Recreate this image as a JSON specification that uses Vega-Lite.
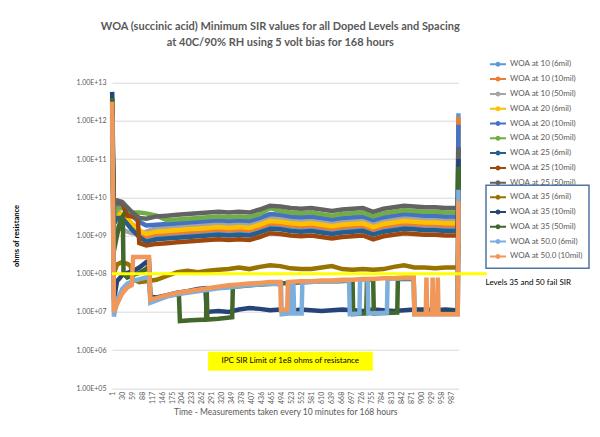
{
"$schema": "https://vega.github.io/schema/vega-lite/v6.json",
"width": 346.6, "height": 305.6, "autosize": "none",
"padding": {"left": 112, "top": 82.7, "right": 141.4, "bottom": 48.7},
"background": "white",
"title": {"text": ["WOA (succinic acid) Minimum SIR values  for all Doped Levels and Spacing", "at 40C/90% RH using 5 volt bias for 168 hours"], "font": "Lato", "fontSize": 11, "fontWeight": "bold", "color": "#595959", "anchor": "middle", "offset": 10, "lineHeight": 16, "dx": -5},
"config": {"view": {"stroke": null}, "font": "Lato",
  "axisX": {"labelOverlap": false, "labelAngle": -90, "labelFontSize": 7, "labelColor": "#595959", "labelFont": "Lato", "ticks": false, "grid": false, "domain": false, "labelPadding": 3, "labelFlush": false, "labelBound": false, "labelSeparation": 0, "titleFont": "Lato", "titleFontSize": 8.5, "titleFontWeight": "normal", "titleColor": "#595959", "titlePadding": 4},
  "axisY": {"labelOverlap": false, "labelFontSize": 7, "labelColor": "#595959", "labelFont": "Lato", "labelPadding": 6, "ticks": false, "domain": false, "grid": true, "gridColor": "#D9D9D9", "titleFont": "Lato", "titleFontSize": 7.5, "titleFontWeight": "bold", "titleColor": "#000000", "titlePadding": 55},
  "legend": {"labelFont": "Lato", "labelFontSize": 8, "labelColor": "#595959", "symbolType": "M-1.6,0H1.6M-0.3,0A0.3,0.3,0,1,0,0.3,0A0.3,0.3,0,1,0,-0.3,0", "symbolSize": 100, "symbolStrokeWidth": 2, "rowPadding": 2.8, "labelOffset": 6, "strokeWidth": 1.5}},
"datasets": {
"upper": [
{"s":"WOA at 10 (6mil)","t":1,"v":2.51e12},{"s":"WOA at 10 (6mil)","t":3,"v":1.00e11},{"s":"WOA at 10 (6mil)","t":6,"v":2.00e9},{"s":"WOA at 10 (6mil)","t":15,"v":3.16e9},{"s":"WOA at 10 (6mil)","t":30,"v":3.16e9},{"s":"WOA at 10 (6mil)","t":45,"v":2.29e9},{"s":"WOA at 10 (6mil)","t":60,"v":1.58e9},{"s":"WOA at 10 (6mil)","t":80,"v":1.00e9},{"s":"WOA at 10 (6mil)","t":100,"v":7.94e8},{"s":"WOA at 10 (6mil)","t":130,"v":9.12e8},{"s":"WOA at 10 (6mil)","t":160,"v":9.55e8},{"s":"WOA at 10 (6mil)","t":190,"v":1.00e9},{"s":"WOA at 10 (6mil)","t":220,"v":1.05e9},{"s":"WOA at 10 (6mil)","t":250,"v":1.10e9},{"s":"WOA at 10 (6mil)","t":280,"v":1.15e9},{"s":"WOA at 10 (6mil)","t":310,"v":1.20e9},{"s":"WOA at 10 (6mil)","t":340,"v":1.15e9},{"s":"WOA at 10 (6mil)","t":370,"v":1.20e9},{"s":"WOA at 10 (6mil)","t":400,"v":1.15e9},{"s":"WOA at 10 (6mil)","t":430,"v":1.38e9},{"s":"WOA at 10 (6mil)","t":460,"v":1.74e9},{"s":"WOA at 10 (6mil)","t":490,"v":1.66e9},{"s":"WOA at 10 (6mil)","t":520,"v":1.51e9},{"s":"WOA at 10 (6mil)","t":550,"v":1.45e9},{"s":"WOA at 10 (6mil)","t":580,"v":1.51e9},{"s":"WOA at 10 (6mil)","t":610,"v":1.38e9},{"s":"WOA at 10 (6mil)","t":640,"v":1.26e9},{"s":"WOA at 10 (6mil)","t":670,"v":1.38e9},{"s":"WOA at 10 (6mil)","t":700,"v":1.45e9},{"s":"WOA at 10 (6mil)","t":730,"v":1.51e9},{"s":"WOA at 10 (6mil)","t":760,"v":1.20e9},{"s":"WOA at 10 (6mil)","t":790,"v":1.45e9},{"s":"WOA at 10 (6mil)","t":820,"v":1.58e9},{"s":"WOA at 10 (6mil)","t":850,"v":1.74e9},{"s":"WOA at 10 (6mil)","t":880,"v":1.66e9},{"s":"WOA at 10 (6mil)","t":910,"v":1.58e9},{"s":"WOA at 10 (6mil)","t":940,"v":1.58e9},{"s":"WOA at 10 (6mil)","t":970,"v":1.51e9},{"s":"WOA at 10 (6mil)","t":1000,"v":1.51e9},{"s":"WOA at 10 (6mil)","t":1006,"v":1.51e9},{"s":"WOA at 10 (6mil)","t":1008,"v":1.58e12},
{"s":"WOA at 10 (10mil)","t":1,"v":1.58e12},{"s":"WOA at 10 (10mil)","t":3,"v":6.31e10},{"s":"WOA at 10 (10mil)","t":6,"v":3.16e9},{"s":"WOA at 10 (10mil)","t":15,"v":3.98e9},{"s":"WOA at 10 (10mil)","t":30,"v":3.63e9},{"s":"WOA at 10 (10mil)","t":45,"v":2.63e9},{"s":"WOA at 10 (10mil)","t":60,"v":1.82e9},{"s":"WOA at 10 (10mil)","t":80,"v":1.20e9},{"s":"WOA at 10 (10mil)","t":100,"v":9.55e8},{"s":"WOA at 10 (10mil)","t":130,"v":1.10e9},{"s":"WOA at 10 (10mil)","t":160,"v":1.15e9},{"s":"WOA at 10 (10mil)","t":190,"v":1.20e9},{"s":"WOA at 10 (10mil)","t":220,"v":1.26e9},{"s":"WOA at 10 (10mil)","t":250,"v":1.32e9},{"s":"WOA at 10 (10mil)","t":280,"v":1.38e9},{"s":"WOA at 10 (10mil)","t":310,"v":1.45e9},{"s":"WOA at 10 (10mil)","t":340,"v":1.38e9},{"s":"WOA at 10 (10mil)","t":370,"v":1.45e9},{"s":"WOA at 10 (10mil)","t":400,"v":1.38e9},{"s":"WOA at 10 (10mil)","t":430,"v":1.66e9},{"s":"WOA at 10 (10mil)","t":460,"v":2.09e9},{"s":"WOA at 10 (10mil)","t":490,"v":2.00e9},{"s":"WOA at 10 (10mil)","t":520,"v":1.82e9},{"s":"WOA at 10 (10mil)","t":550,"v":1.74e9},{"s":"WOA at 10 (10mil)","t":580,"v":1.82e9},{"s":"WOA at 10 (10mil)","t":610,"v":1.66e9},{"s":"WOA at 10 (10mil)","t":640,"v":1.51e9},{"s":"WOA at 10 (10mil)","t":670,"v":1.66e9},{"s":"WOA at 10 (10mil)","t":700,"v":1.74e9},{"s":"WOA at 10 (10mil)","t":730,"v":1.82e9},{"s":"WOA at 10 (10mil)","t":760,"v":1.45e9},{"s":"WOA at 10 (10mil)","t":790,"v":1.74e9},{"s":"WOA at 10 (10mil)","t":820,"v":1.91e9},{"s":"WOA at 10 (10mil)","t":850,"v":2.09e9},{"s":"WOA at 10 (10mil)","t":880,"v":2.00e9},{"s":"WOA at 10 (10mil)","t":910,"v":1.91e9},{"s":"WOA at 10 (10mil)","t":940,"v":1.91e9},{"s":"WOA at 10 (10mil)","t":970,"v":1.82e9},{"s":"WOA at 10 (10mil)","t":1000,"v":1.82e9},{"s":"WOA at 10 (10mil)","t":1006,"v":1.82e9},{"s":"WOA at 10 (10mil)","t":1008,"v":1.26e12},
{"s":"WOA at 10  (50mil)","t":1,"v":6.31e11},{"s":"WOA at 10  (50mil)","t":3,"v":2.51e10},{"s":"WOA at 10  (50mil)","t":6,"v":1.26e9},{"s":"WOA at 10  (50mil)","t":15,"v":1.58e9},{"s":"WOA at 10  (50mil)","t":30,"v":1.45e9},{"s":"WOA at 10  (50mil)","t":45,"v":1.26e9},{"s":"WOA at 10  (50mil)","t":60,"v":1.15e9},{"s":"WOA at 10  (50mil)","t":80,"v":1.10e9},{"s":"WOA at 10  (50mil)","t":100,"v":1.26e9},{"s":"WOA at 10  (50mil)","t":130,"v":1.58e9},{"s":"WOA at 10  (50mil)","t":160,"v":1.66e9},{"s":"WOA at 10  (50mil)","t":190,"v":1.74e9},{"s":"WOA at 10  (50mil)","t":220,"v":1.82e9},{"s":"WOA at 10  (50mil)","t":250,"v":1.91e9},{"s":"WOA at 10  (50mil)","t":280,"v":2.00e9},{"s":"WOA at 10  (50mil)","t":310,"v":2.09e9},{"s":"WOA at 10  (50mil)","t":340,"v":2.00e9},{"s":"WOA at 10  (50mil)","t":370,"v":2.09e9},{"s":"WOA at 10  (50mil)","t":400,"v":2.00e9},{"s":"WOA at 10  (50mil)","t":430,"v":2.40e9},{"s":"WOA at 10  (50mil)","t":460,"v":3.02e9},{"s":"WOA at 10  (50mil)","t":490,"v":2.88e9},{"s":"WOA at 10  (50mil)","t":520,"v":2.63e9},{"s":"WOA at 10  (50mil)","t":550,"v":2.51e9},{"s":"WOA at 10  (50mil)","t":580,"v":2.63e9},{"s":"WOA at 10  (50mil)","t":610,"v":2.40e9},{"s":"WOA at 10  (50mil)","t":640,"v":2.19e9},{"s":"WOA at 10  (50mil)","t":670,"v":2.40e9},{"s":"WOA at 10  (50mil)","t":700,"v":2.51e9},{"s":"WOA at 10  (50mil)","t":730,"v":2.63e9},{"s":"WOA at 10  (50mil)","t":760,"v":2.09e9},{"s":"WOA at 10  (50mil)","t":790,"v":2.51e9},{"s":"WOA at 10  (50mil)","t":820,"v":2.75e9},{"s":"WOA at 10  (50mil)","t":850,"v":3.02e9},{"s":"WOA at 10  (50mil)","t":880,"v":2.88e9},{"s":"WOA at 10  (50mil)","t":910,"v":2.75e9},{"s":"WOA at 10  (50mil)","t":940,"v":2.75e9},{"s":"WOA at 10  (50mil)","t":970,"v":2.63e9},{"s":"WOA at 10  (50mil)","t":1000,"v":2.63e9},{"s":"WOA at 10  (50mil)","t":1006,"v":2.63e9},{"s":"WOA at 10  (50mil)","t":1008,"v":1.00e11},
{"s":"WOA at 20 (6mil)","t":1,"v":1.00e12},{"s":"WOA at 20 (6mil)","t":3,"v":3.98e10},{"s":"WOA at 20 (6mil)","t":6,"v":2.51e9},{"s":"WOA at 20 (6mil)","t":15,"v":3.63e9},{"s":"WOA at 20 (6mil)","t":30,"v":3.63e9},{"s":"WOA at 20 (6mil)","t":45,"v":2.75e9},{"s":"WOA at 20 (6mil)","t":60,"v":2.00e9},{"s":"WOA at 20 (6mil)","t":80,"v":1.38e9},{"s":"WOA at 20 (6mil)","t":100,"v":1.10e9},{"s":"WOA at 20 (6mil)","t":130,"v":1.26e9},{"s":"WOA at 20 (6mil)","t":160,"v":1.32e9},{"s":"WOA at 20 (6mil)","t":190,"v":1.38e9},{"s":"WOA at 20 (6mil)","t":220,"v":1.45e9},{"s":"WOA at 20 (6mil)","t":250,"v":1.51e9},{"s":"WOA at 20 (6mil)","t":280,"v":1.58e9},{"s":"WOA at 20 (6mil)","t":310,"v":1.66e9},{"s":"WOA at 20 (6mil)","t":340,"v":1.58e9},{"s":"WOA at 20 (6mil)","t":370,"v":1.66e9},{"s":"WOA at 20 (6mil)","t":400,"v":1.58e9},{"s":"WOA at 20 (6mil)","t":430,"v":1.91e9},{"s":"WOA at 20 (6mil)","t":460,"v":2.40e9},{"s":"WOA at 20 (6mil)","t":490,"v":2.29e9},{"s":"WOA at 20 (6mil)","t":520,"v":2.09e9},{"s":"WOA at 20 (6mil)","t":550,"v":2.00e9},{"s":"WOA at 20 (6mil)","t":580,"v":2.09e9},{"s":"WOA at 20 (6mil)","t":610,"v":1.91e9},{"s":"WOA at 20 (6mil)","t":640,"v":1.74e9},{"s":"WOA at 20 (6mil)","t":670,"v":1.91e9},{"s":"WOA at 20 (6mil)","t":700,"v":2.00e9},{"s":"WOA at 20 (6mil)","t":730,"v":2.09e9},{"s":"WOA at 20 (6mil)","t":760,"v":1.66e9},{"s":"WOA at 20 (6mil)","t":790,"v":2.00e9},{"s":"WOA at 20 (6mil)","t":820,"v":2.19e9},{"s":"WOA at 20 (6mil)","t":850,"v":2.40e9},{"s":"WOA at 20 (6mil)","t":880,"v":2.29e9},{"s":"WOA at 20 (6mil)","t":910,"v":2.19e9},{"s":"WOA at 20 (6mil)","t":940,"v":2.19e9},{"s":"WOA at 20 (6mil)","t":970,"v":2.09e9},{"s":"WOA at 20 (6mil)","t":1000,"v":2.09e9},{"s":"WOA at 20 (6mil)","t":1006,"v":2.09e9},{"s":"WOA at 20 (6mil)","t":1008,"v":1.00e10},
{"s":"WOA at 20 (10mil)","t":1,"v":3.16e12},{"s":"WOA at 20 (10mil)","t":3,"v":1.58e11},{"s":"WOA at 20 (10mil)","t":6,"v":3.98e9},{"s":"WOA at 20 (10mil)","t":15,"v":6.31e9},{"s":"WOA at 20 (10mil)","t":30,"v":6.31e9},{"s":"WOA at 20 (10mil)","t":45,"v":4.57e9},{"s":"WOA at 20 (10mil)","t":60,"v":3.16e9},{"s":"WOA at 20 (10mil)","t":80,"v":2.29e9},{"s":"WOA at 20 (10mil)","t":100,"v":1.82e9},{"s":"WOA at 20 (10mil)","t":130,"v":1.91e9},{"s":"WOA at 20 (10mil)","t":160,"v":2.00e9},{"s":"WOA at 20 (10mil)","t":190,"v":2.09e9},{"s":"WOA at 20 (10mil)","t":220,"v":2.19e9},{"s":"WOA at 20 (10mil)","t":250,"v":2.29e9},{"s":"WOA at 20 (10mil)","t":280,"v":2.40e9},{"s":"WOA at 20 (10mil)","t":310,"v":2.51e9},{"s":"WOA at 20 (10mil)","t":340,"v":2.40e9},{"s":"WOA at 20 (10mil)","t":370,"v":2.51e9},{"s":"WOA at 20 (10mil)","t":400,"v":2.40e9},{"s":"WOA at 20 (10mil)","t":430,"v":2.88e9},{"s":"WOA at 20 (10mil)","t":460,"v":3.63e9},{"s":"WOA at 20 (10mil)","t":490,"v":3.47e9},{"s":"WOA at 20 (10mil)","t":520,"v":3.16e9},{"s":"WOA at 20 (10mil)","t":550,"v":3.02e9},{"s":"WOA at 20 (10mil)","t":580,"v":3.16e9},{"s":"WOA at 20 (10mil)","t":610,"v":2.88e9},{"s":"WOA at 20 (10mil)","t":640,"v":2.63e9},{"s":"WOA at 20 (10mil)","t":670,"v":2.88e9},{"s":"WOA at 20 (10mil)","t":700,"v":3.02e9},{"s":"WOA at 20 (10mil)","t":730,"v":3.16e9},{"s":"WOA at 20 (10mil)","t":760,"v":2.51e9},{"s":"WOA at 20 (10mil)","t":790,"v":3.02e9},{"s":"WOA at 20 (10mil)","t":820,"v":3.31e9},{"s":"WOA at 20 (10mil)","t":850,"v":3.63e9},{"s":"WOA at 20 (10mil)","t":880,"v":3.47e9},{"s":"WOA at 20 (10mil)","t":910,"v":3.31e9},{"s":"WOA at 20 (10mil)","t":940,"v":3.31e9},{"s":"WOA at 20 (10mil)","t":970,"v":3.16e9},{"s":"WOA at 20 (10mil)","t":1000,"v":3.16e9},{"s":"WOA at 20 (10mil)","t":1006,"v":3.16e9},{"s":"WOA at 20 (10mil)","t":1008,"v":7.94e11},
{"s":"WOA at 20 (50mil)","t":1,"v":3.98e12},{"s":"WOA at 20 (50mil)","t":3,"v":2.51e11},{"s":"WOA at 20 (50mil)","t":6,"v":3.16e9},{"s":"WOA at 20 (50mil)","t":15,"v":5.01e9},{"s":"WOA at 20 (50mil)","t":30,"v":5.25e9},{"s":"WOA at 20 (50mil)","t":45,"v":4.57e9},{"s":"WOA at 20 (50mil)","t":60,"v":3.98e9},{"s":"WOA at 20 (50mil)","t":80,"v":3.98e9},{"s":"WOA at 20 (50mil)","t":100,"v":3.80e9},{"s":"WOA at 20 (50mil)","t":130,"v":3.31e9},{"s":"WOA at 20 (50mil)","t":160,"v":2.51e9},{"s":"WOA at 20 (50mil)","t":190,"v":2.63e9},{"s":"WOA at 20 (50mil)","t":220,"v":2.75e9},{"s":"WOA at 20 (50mil)","t":250,"v":2.88e9},{"s":"WOA at 20 (50mil)","t":280,"v":3.02e9},{"s":"WOA at 20 (50mil)","t":310,"v":3.16e9},{"s":"WOA at 20 (50mil)","t":340,"v":3.02e9},{"s":"WOA at 20 (50mil)","t":370,"v":3.16e9},{"s":"WOA at 20 (50mil)","t":400,"v":3.02e9},{"s":"WOA at 20 (50mil)","t":430,"v":3.63e9},{"s":"WOA at 20 (50mil)","t":460,"v":5.25e9},{"s":"WOA at 20 (50mil)","t":490,"v":4.37e9},{"s":"WOA at 20 (50mil)","t":520,"v":3.98e9},{"s":"WOA at 20 (50mil)","t":550,"v":3.80e9},{"s":"WOA at 20 (50mil)","t":580,"v":3.98e9},{"s":"WOA at 20 (50mil)","t":610,"v":3.63e9},{"s":"WOA at 20 (50mil)","t":640,"v":3.31e9},{"s":"WOA at 20 (50mil)","t":670,"v":3.63e9},{"s":"WOA at 20 (50mil)","t":700,"v":3.80e9},{"s":"WOA at 20 (50mil)","t":730,"v":3.98e9},{"s":"WOA at 20 (50mil)","t":760,"v":3.16e9},{"s":"WOA at 20 (50mil)","t":790,"v":3.80e9},{"s":"WOA at 20 (50mil)","t":820,"v":4.17e9},{"s":"WOA at 20 (50mil)","t":850,"v":4.57e9},{"s":"WOA at 20 (50mil)","t":880,"v":4.37e9},{"s":"WOA at 20 (50mil)","t":910,"v":4.17e9},{"s":"WOA at 20 (50mil)","t":940,"v":4.17e9},{"s":"WOA at 20 (50mil)","t":970,"v":3.98e9},{"s":"WOA at 20 (50mil)","t":1000,"v":3.98e9},{"s":"WOA at 20 (50mil)","t":1006,"v":3.98e9},{"s":"WOA at 20 (50mil)","t":1008,"v":1.58e11},
{"s":"WOA at 25 (6mil)","t":1,"v":2.00e12},{"s":"WOA at 25 (6mil)","t":3,"v":7.94e10},{"s":"WOA at 25 (6mil)","t":6,"v":2.00e9},{"s":"WOA at 25 (6mil)","t":15,"v":2.88e9},{"s":"WOA at 25 (6mil)","t":30,"v":2.88e9},{"s":"WOA at 25 (6mil)","t":45,"v":2.00e9},{"s":"WOA at 25 (6mil)","t":60,"v":1.38e9},{"s":"WOA at 25 (6mil)","t":80,"v":9.12e8},{"s":"WOA at 25 (6mil)","t":100,"v":6.92e8},{"s":"WOA at 25 (6mil)","t":130,"v":7.94e8},{"s":"WOA at 25 (6mil)","t":160,"v":8.32e8},{"s":"WOA at 25 (6mil)","t":190,"v":8.71e8},{"s":"WOA at 25 (6mil)","t":220,"v":9.12e8},{"s":"WOA at 25 (6mil)","t":250,"v":9.55e8},{"s":"WOA at 25 (6mil)","t":280,"v":1.00e9},{"s":"WOA at 25 (6mil)","t":310,"v":1.05e9},{"s":"WOA at 25 (6mil)","t":340,"v":1.00e9},{"s":"WOA at 25 (6mil)","t":370,"v":1.05e9},{"s":"WOA at 25 (6mil)","t":400,"v":1.00e9},{"s":"WOA at 25 (6mil)","t":430,"v":1.20e9},{"s":"WOA at 25 (6mil)","t":460,"v":1.51e9},{"s":"WOA at 25 (6mil)","t":490,"v":1.45e9},{"s":"WOA at 25 (6mil)","t":520,"v":1.32e9},{"s":"WOA at 25 (6mil)","t":550,"v":1.26e9},{"s":"WOA at 25 (6mil)","t":580,"v":1.32e9},{"s":"WOA at 25 (6mil)","t":610,"v":1.20e9},{"s":"WOA at 25 (6mil)","t":640,"v":1.10e9},{"s":"WOA at 25 (6mil)","t":670,"v":1.20e9},{"s":"WOA at 25 (6mil)","t":700,"v":1.26e9},{"s":"WOA at 25 (6mil)","t":730,"v":1.32e9},{"s":"WOA at 25 (6mil)","t":760,"v":1.05e9},{"s":"WOA at 25 (6mil)","t":790,"v":1.26e9},{"s":"WOA at 25 (6mil)","t":820,"v":1.38e9},{"s":"WOA at 25 (6mil)","t":850,"v":1.51e9},{"s":"WOA at 25 (6mil)","t":880,"v":1.45e9},{"s":"WOA at 25 (6mil)","t":910,"v":1.38e9},{"s":"WOA at 25 (6mil)","t":940,"v":1.38e9},{"s":"WOA at 25 (6mil)","t":970,"v":1.32e9},{"s":"WOA at 25 (6mil)","t":1000,"v":1.32e9},{"s":"WOA at 25 (6mil)","t":1006,"v":1.32e9},{"s":"WOA at 25 (6mil)","t":1008,"v":2.00e11},
{"s":"WOA at 25 (10mil)","t":1,"v":3.98e11},{"s":"WOA at 25 (10mil)","t":3,"v":1.58e10},{"s":"WOA at 25 (10mil)","t":6,"v":7.24e9},{"s":"WOA at 25 (10mil)","t":15,"v":7.59e9},{"s":"WOA at 25 (10mil)","t":30,"v":7.24e9},{"s":"WOA at 25 (10mil)","t":45,"v":3.31e9},{"s":"WOA at 25 (10mil)","t":60,"v":3.16e9},{"s":"WOA at 25 (10mil)","t":75,"v":3.02e9},{"s":"WOA at 25 (10mil)","t":80,"v":6.31e8},{"s":"WOA at 25 (10mil)","t":100,"v":5.50e8},{"s":"WOA at 25 (10mil)","t":130,"v":6.03e8},{"s":"WOA at 25 (10mil)","t":160,"v":6.31e8},{"s":"WOA at 25 (10mil)","t":190,"v":6.61e8},{"s":"WOA at 25 (10mil)","t":220,"v":6.92e8},{"s":"WOA at 25 (10mil)","t":250,"v":7.24e8},{"s":"WOA at 25 (10mil)","t":280,"v":7.59e8},{"s":"WOA at 25 (10mil)","t":310,"v":7.94e8},{"s":"WOA at 25 (10mil)","t":340,"v":7.59e8},{"s":"WOA at 25 (10mil)","t":370,"v":7.94e8},{"s":"WOA at 25 (10mil)","t":400,"v":7.59e8},{"s":"WOA at 25 (10mil)","t":430,"v":9.12e8},{"s":"WOA at 25 (10mil)","t":460,"v":1.15e9},{"s":"WOA at 25 (10mil)","t":490,"v":1.10e9},{"s":"WOA at 25 (10mil)","t":520,"v":1.00e9},{"s":"WOA at 25 (10mil)","t":550,"v":9.55e8},{"s":"WOA at 25 (10mil)","t":580,"v":1.00e9},{"s":"WOA at 25 (10mil)","t":610,"v":9.12e8},{"s":"WOA at 25 (10mil)","t":640,"v":8.32e8},{"s":"WOA at 25 (10mil)","t":670,"v":9.12e8},{"s":"WOA at 25 (10mil)","t":700,"v":9.55e8},{"s":"WOA at 25 (10mil)","t":730,"v":1.00e9},{"s":"WOA at 25 (10mil)","t":760,"v":7.94e8},{"s":"WOA at 25 (10mil)","t":790,"v":9.55e8},{"s":"WOA at 25 (10mil)","t":820,"v":1.05e9},{"s":"WOA at 25 (10mil)","t":850,"v":1.15e9},{"s":"WOA at 25 (10mil)","t":880,"v":1.10e9},{"s":"WOA at 25 (10mil)","t":910,"v":1.05e9},{"s":"WOA at 25 (10mil)","t":940,"v":1.05e9},{"s":"WOA at 25 (10mil)","t":970,"v":1.00e9},{"s":"WOA at 25 (10mil)","t":1000,"v":1.00e9},{"s":"WOA at 25 (10mil)","t":1006,"v":1.00e9},{"s":"WOA at 25 (10mil)","t":1008,"v":3.98e10},
{"s":"WOA at 25 (50mil)","t":1,"v":1.26e12},{"s":"WOA at 25 (50mil)","t":3,"v":3.98e10},{"s":"WOA at 25 (50mil)","t":6,"v":7.94e9},{"s":"WOA at 25 (50mil)","t":15,"v":8.32e9},{"s":"WOA at 25 (50mil)","t":30,"v":7.59e9},{"s":"WOA at 25 (50mil)","t":45,"v":5.50e9},{"s":"WOA at 25 (50mil)","t":60,"v":3.98e9},{"s":"WOA at 25 (50mil)","t":80,"v":2.88e9},{"s":"WOA at 25 (50mil)","t":100,"v":2.75e9},{"s":"WOA at 25 (50mil)","t":130,"v":3.16e9},{"s":"WOA at 25 (50mil)","t":160,"v":3.31e9},{"s":"WOA at 25 (50mil)","t":190,"v":3.47e9},{"s":"WOA at 25 (50mil)","t":220,"v":3.63e9},{"s":"WOA at 25 (50mil)","t":250,"v":3.80e9},{"s":"WOA at 25 (50mil)","t":280,"v":3.98e9},{"s":"WOA at 25 (50mil)","t":310,"v":4.17e9},{"s":"WOA at 25 (50mil)","t":340,"v":3.98e9},{"s":"WOA at 25 (50mil)","t":370,"v":4.17e9},{"s":"WOA at 25 (50mil)","t":400,"v":3.98e9},{"s":"WOA at 25 (50mil)","t":430,"v":4.79e9},{"s":"WOA at 25 (50mil)","t":460,"v":6.03e9},{"s":"WOA at 25 (50mil)","t":490,"v":5.75e9},{"s":"WOA at 25 (50mil)","t":520,"v":5.25e9},{"s":"WOA at 25 (50mil)","t":550,"v":5.01e9},{"s":"WOA at 25 (50mil)","t":580,"v":5.25e9},{"s":"WOA at 25 (50mil)","t":610,"v":4.79e9},{"s":"WOA at 25 (50mil)","t":640,"v":4.37e9},{"s":"WOA at 25 (50mil)","t":670,"v":4.79e9},{"s":"WOA at 25 (50mil)","t":700,"v":5.01e9},{"s":"WOA at 25 (50mil)","t":730,"v":5.25e9},{"s":"WOA at 25 (50mil)","t":760,"v":4.17e9},{"s":"WOA at 25 (50mil)","t":790,"v":5.01e9},{"s":"WOA at 25 (50mil)","t":820,"v":5.50e9},{"s":"WOA at 25 (50mil)","t":850,"v":6.03e9},{"s":"WOA at 25 (50mil)","t":880,"v":5.75e9},{"s":"WOA at 25 (50mil)","t":910,"v":5.50e9},{"s":"WOA at 25 (50mil)","t":940,"v":5.50e9},{"s":"WOA at 25 (50mil)","t":970,"v":5.25e9},{"s":"WOA at 25 (50mil)","t":1000,"v":5.25e9},{"s":"WOA at 25 (50mil)","t":1006,"v":5.25e9},{"s":"WOA at 25 (50mil)","t":1008,"v":2.00e11}
],
"lower": [
{"s":"WOA at 35 (6mil)","t":1,"v":7.94e11},{"s":"WOA at 35 (6mil)","t":3,"v":2.51e10},{"s":"WOA at 35 (6mil)","t":6,"v":1.00e8},{"s":"WOA at 35 (6mil)","t":15,"v":1.74e8},{"s":"WOA at 35 (6mil)","t":30,"v":2.00e8},{"s":"WOA at 35 (6mil)","t":45,"v":1.82e8},{"s":"WOA at 35 (6mil)","t":55,"v":1.58e8},{"s":"WOA at 35 (6mil)","t":60,"v":7.24e7},{"s":"WOA at 35 (6mil)","t":80,"v":6.03e7},{"s":"WOA at 35 (6mil)","t":100,"v":6.31e7},{"s":"WOA at 35 (6mil)","t":130,"v":6.92e7},{"s":"WOA at 35 (6mil)","t":160,"v":8.71e7},{"s":"WOA at 35 (6mil)","t":190,"v":1.10e8},{"s":"WOA at 35 (6mil)","t":220,"v":1.20e8},{"s":"WOA at 35 (6mil)","t":250,"v":1.10e8},{"s":"WOA at 35 (6mil)","t":280,"v":1.20e8},{"s":"WOA at 35 (6mil)","t":310,"v":1.26e8},{"s":"WOA at 35 (6mil)","t":340,"v":1.32e8},{"s":"WOA at 35 (6mil)","t":370,"v":1.45e8},{"s":"WOA at 35 (6mil)","t":400,"v":1.32e8},{"s":"WOA at 35 (6mil)","t":430,"v":1.51e8},{"s":"WOA at 35 (6mil)","t":460,"v":1.66e8},{"s":"WOA at 35 (6mil)","t":490,"v":1.58e8},{"s":"WOA at 35 (6mil)","t":520,"v":1.38e8},{"s":"WOA at 35 (6mil)","t":550,"v":1.32e8},{"s":"WOA at 35 (6mil)","t":580,"v":1.32e8},{"s":"WOA at 35 (6mil)","t":610,"v":1.45e8},{"s":"WOA at 35 (6mil)","t":640,"v":1.58e8},{"s":"WOA at 35 (6mil)","t":670,"v":1.32e8},{"s":"WOA at 35 (6mil)","t":700,"v":1.26e8},{"s":"WOA at 35 (6mil)","t":730,"v":1.32e8},{"s":"WOA at 35 (6mil)","t":760,"v":1.26e8},{"s":"WOA at 35 (6mil)","t":790,"v":1.32e8},{"s":"WOA at 35 (6mil)","t":820,"v":1.51e8},{"s":"WOA at 35 (6mil)","t":850,"v":1.66e8},{"s":"WOA at 35 (6mil)","t":880,"v":1.45e8},{"s":"WOA at 35 (6mil)","t":910,"v":1.45e8},{"s":"WOA at 35 (6mil)","t":940,"v":1.38e8},{"s":"WOA at 35 (6mil)","t":970,"v":1.45e8},{"s":"WOA at 35 (6mil)","t":1000,"v":1.45e8},{"s":"WOA at 35 (6mil)","t":1006,"v":1.51e8},{"s":"WOA at 35 (6mil)","t":1008,"v":6.31e8},
{"s":"WOA at 35 (10mil)","t":1,"v":5.75e12},{"s":"WOA at 35 (10mil)","t":3,"v":3.16e11},{"s":"WOA at 35 (10mil)","t":6,"v":2.00e7},{"s":"WOA at 35 (10mil)","t":15,"v":6.31e7},{"s":"WOA at 35 (10mil)","t":30,"v":9.12e7},{"s":"WOA at 35 (10mil)","t":45,"v":1.05e8},{"s":"WOA at 35 (10mil)","t":60,"v":1.15e8},{"s":"WOA at 35 (10mil)","t":80,"v":1.45e8},{"s":"WOA at 35 (10mil)","t":100,"v":2.00e8},{"s":"WOA at 35 (10mil)","t":108,"v":2.19e8},{"s":"WOA at 35 (10mil)","t":112,"v":2.51e7},{"s":"WOA at 35 (10mil)","t":130,"v":2.40e7},{"s":"WOA at 35 (10mil)","t":160,"v":2.75e7},{"s":"WOA at 35 (10mil)","t":190,"v":3.16e7},{"s":"WOA at 35 (10mil)","t":220,"v":3.47e7},{"s":"WOA at 35 (10mil)","t":250,"v":3.98e7},{"s":"WOA at 35 (10mil)","t":272,"v":4.17e7},{"s":"WOA at 35 (10mil)","t":276,"v":1.00e7},{"s":"WOA at 35 (10mil)","t":310,"v":1.05e7},{"s":"WOA at 35 (10mil)","t":340,"v":1.00e7},{"s":"WOA at 35 (10mil)","t":370,"v":1.15e7},{"s":"WOA at 35 (10mil)","t":400,"v":1.26e7},{"s":"WOA at 35 (10mil)","t":430,"v":1.20e7},{"s":"WOA at 35 (10mil)","t":460,"v":1.10e7},{"s":"WOA at 35 (10mil)","t":490,"v":1.15e7},{"s":"WOA at 35 (10mil)","t":520,"v":1.05e7},{"s":"WOA at 35 (10mil)","t":550,"v":1.15e7},{"s":"WOA at 35 (10mil)","t":580,"v":1.10e7},{"s":"WOA at 35 (10mil)","t":610,"v":1.05e7},{"s":"WOA at 35 (10mil)","t":640,"v":1.10e7},{"s":"WOA at 35 (10mil)","t":670,"v":1.15e7},{"s":"WOA at 35 (10mil)","t":700,"v":1.10e7},{"s":"WOA at 35 (10mil)","t":730,"v":1.05e7},{"s":"WOA at 35 (10mil)","t":760,"v":1.15e7},{"s":"WOA at 35 (10mil)","t":790,"v":1.10e7},{"s":"WOA at 35 (10mil)","t":820,"v":1.05e7},{"s":"WOA at 35 (10mil)","t":850,"v":1.10e7},{"s":"WOA at 35 (10mil)","t":880,"v":1.15e7},{"s":"WOA at 35 (10mil)","t":910,"v":1.15e7},{"s":"WOA at 35 (10mil)","t":940,"v":1.10e7},{"s":"WOA at 35 (10mil)","t":970,"v":1.15e7},{"s":"WOA at 35 (10mil)","t":1000,"v":1.10e7},{"s":"WOA at 35 (10mil)","t":1006,"v":1.10e7},{"s":"WOA at 35 (10mil)","t":1008,"v":1.00e11},
{"s":"WOA at 35 (50mil)","t":1,"v":3.98e12},{"s":"WOA at 35 (50mil)","t":3,"v":1.00e11},{"s":"WOA at 35 (50mil)","t":6,"v":3.98e8},{"s":"WOA at 35 (50mil)","t":15,"v":1.00e9},{"s":"WOA at 35 (50mil)","t":25,"v":2.51e9},{"s":"WOA at 35 (50mil)","t":32,"v":3.16e9},{"s":"WOA at 35 (50mil)","t":34,"v":1.00e8},{"s":"WOA at 35 (50mil)","t":45,"v":7.94e7},{"s":"WOA at 35 (50mil)","t":60,"v":9.12e7},{"s":"WOA at 35 (50mil)","t":80,"v":1.05e8},{"s":"WOA at 35 (50mil)","t":100,"v":1.32e8},{"s":"WOA at 35 (50mil)","t":108,"v":1.58e8},{"s":"WOA at 35 (50mil)","t":112,"v":2.40e7},{"s":"WOA at 35 (50mil)","t":130,"v":2.29e7},{"s":"WOA at 35 (50mil)","t":160,"v":2.63e7},{"s":"WOA at 35 (50mil)","t":195,"v":3.02e7},{"s":"WOA at 35 (50mil)","t":198,"v":5.75e6},{"s":"WOA at 35 (50mil)","t":230,"v":6.03e6},{"s":"WOA at 35 (50mil)","t":274,"v":6.31e6},{"s":"WOA at 35 (50mil)","t":276,"v":3.80e7},{"s":"WOA at 35 (50mil)","t":278,"v":6.31e6},{"s":"WOA at 35 (50mil)","t":310,"v":6.61e6},{"s":"WOA at 35 (50mil)","t":350,"v":7.24e6},{"s":"WOA at 35 (50mil)","t":352,"v":4.57e7},{"s":"WOA at 35 (50mil)","t":380,"v":4.79e7},{"s":"WOA at 35 (50mil)","t":430,"v":5.25e7},{"s":"WOA at 35 (50mil)","t":490,"v":5.50e7},{"s":"WOA at 35 (50mil)","t":520,"v":5.75e7},{"s":"WOA at 35 (50mil)","t":560,"v":6.03e7},{"s":"WOA at 35 (50mil)","t":610,"v":6.31e7},{"s":"WOA at 35 (50mil)","t":660,"v":6.31e7},{"s":"WOA at 35 (50mil)","t":700,"v":6.61e7},{"s":"WOA at 35 (50mil)","t":702,"v":8.71e6},{"s":"WOA at 35 (50mil)","t":740,"v":9.12e6},{"s":"WOA at 35 (50mil)","t":742,"v":6.92e7},{"s":"WOA at 35 (50mil)","t":760,"v":6.92e7},{"s":"WOA at 35 (50mil)","t":762,"v":9.12e6},{"s":"WOA at 35 (50mil)","t":830,"v":9.55e6},{"s":"WOA at 35 (50mil)","t":832,"v":7.24e7},{"s":"WOA at 35 (50mil)","t":878,"v":7.24e7},{"s":"WOA at 35 (50mil)","t":880,"v":9.12e6},{"s":"WOA at 35 (50mil)","t":940,"v":9.12e6},{"s":"WOA at 35 (50mil)","t":1006,"v":9.12e6},{"s":"WOA at 35 (50mil)","t":1008,"v":6.31e10},
{"s":"WOA at 50.0 (6mil)","t":1,"v":1.26e12},{"s":"WOA at 50.0 (6mil)","t":3,"v":1.00e10},{"s":"WOA at 50.0 (6mil)","t":6,"v":7.59e6},{"s":"WOA at 50.0 (6mil)","t":15,"v":2.00e7},{"s":"WOA at 50.0 (6mil)","t":30,"v":3.98e7},{"s":"WOA at 50.0 (6mil)","t":45,"v":5.50e7},{"s":"WOA at 50.0 (6mil)","t":60,"v":6.31e7},{"s":"WOA at 50.0 (6mil)","t":80,"v":7.24e7},{"s":"WOA at 50.0 (6mil)","t":100,"v":7.94e7},{"s":"WOA at 50.0 (6mil)","t":108,"v":8.71e7},{"s":"WOA at 50.0 (6mil)","t":112,"v":1.74e7},{"s":"WOA at 50.0 (6mil)","t":130,"v":2.00e7},{"s":"WOA at 50.0 (6mil)","t":160,"v":2.51e7},{"s":"WOA at 50.0 (6mil)","t":190,"v":2.88e7},{"s":"WOA at 50.0 (6mil)","t":220,"v":3.16e7},{"s":"WOA at 50.0 (6mil)","t":250,"v":3.47e7},{"s":"WOA at 50.0 (6mil)","t":280,"v":3.80e7},{"s":"WOA at 50.0 (6mil)","t":310,"v":4.17e7},{"s":"WOA at 50.0 (6mil)","t":340,"v":4.37e7},{"s":"WOA at 50.0 (6mil)","t":370,"v":4.79e7},{"s":"WOA at 50.0 (6mil)","t":400,"v":5.01e7},{"s":"WOA at 50.0 (6mil)","t":430,"v":5.25e7},{"s":"WOA at 50.0 (6mil)","t":460,"v":5.50e7},{"s":"WOA at 50.0 (6mil)","t":492,"v":5.25e7},{"s":"WOA at 50.0 (6mil)","t":494,"v":8.71e6},{"s":"WOA at 50.0 (6mil)","t":518,"v":9.12e6},{"s":"WOA at 50.0 (6mil)","t":520,"v":5.50e7},{"s":"WOA at 50.0 (6mil)","t":528,"v":5.50e7},{"s":"WOA at 50.0 (6mil)","t":530,"v":9.12e6},{"s":"WOA at 50.0 (6mil)","t":552,"v":9.12e6},{"s":"WOA at 50.0 (6mil)","t":554,"v":5.75e7},{"s":"WOA at 50.0 (6mil)","t":580,"v":6.03e7},{"s":"WOA at 50.0 (6mil)","t":610,"v":6.31e7},{"s":"WOA at 50.0 (6mil)","t":640,"v":6.31e7},{"s":"WOA at 50.0 (6mil)","t":670,"v":6.61e7},{"s":"WOA at 50.0 (6mil)","t":690,"v":6.61e7},{"s":"WOA at 50.0 (6mil)","t":692,"v":8.71e6},{"s":"WOA at 50.0 (6mil)","t":720,"v":9.12e6},{"s":"WOA at 50.0 (6mil)","t":722,"v":6.92e7},{"s":"WOA at 50.0 (6mil)","t":744,"v":6.92e7},{"s":"WOA at 50.0 (6mil)","t":746,"v":9.12e6},{"s":"WOA at 50.0 (6mil)","t":800,"v":9.55e6},{"s":"WOA at 50.0 (6mil)","t":802,"v":7.24e7},{"s":"WOA at 50.0 (6mil)","t":850,"v":7.59e7},{"s":"WOA at 50.0 (6mil)","t":878,"v":7.59e7},{"s":"WOA at 50.0 (6mil)","t":880,"v":8.71e6},{"s":"WOA at 50.0 (6mil)","t":940,"v":8.71e6},{"s":"WOA at 50.0 (6mil)","t":1006,"v":8.71e6},{"s":"WOA at 50.0 (6mil)","t":1008,"v":1.58e10},
{"s":"WOA at 50.0 (10mil)","t":1,"v":3.16e12},{"s":"WOA at 50.0 (10mil)","t":3,"v":1.58e10},{"s":"WOA at 50.0 (10mil)","t":6,"v":1.00e7},{"s":"WOA at 50.0 (10mil)","t":15,"v":1.58e7},{"s":"WOA at 50.0 (10mil)","t":30,"v":3.02e7},{"s":"WOA at 50.0 (10mil)","t":45,"v":4.37e7},{"s":"WOA at 50.0 (10mil)","t":58,"v":5.01e7},{"s":"WOA at 50.0 (10mil)","t":62,"v":2.75e8},{"s":"WOA at 50.0 (10mil)","t":108,"v":2.75e8},{"s":"WOA at 50.0 (10mil)","t":112,"v":2.09e7},{"s":"WOA at 50.0 (10mil)","t":130,"v":2.29e7},{"s":"WOA at 50.0 (10mil)","t":160,"v":2.75e7},{"s":"WOA at 50.0 (10mil)","t":190,"v":3.16e7},{"s":"WOA at 50.0 (10mil)","t":220,"v":3.47e7},{"s":"WOA at 50.0 (10mil)","t":250,"v":3.80e7},{"s":"WOA at 50.0 (10mil)","t":280,"v":4.17e7},{"s":"WOA at 50.0 (10mil)","t":310,"v":4.57e7},{"s":"WOA at 50.0 (10mil)","t":340,"v":5.01e7},{"s":"WOA at 50.0 (10mil)","t":370,"v":5.25e7},{"s":"WOA at 50.0 (10mil)","t":400,"v":5.50e7},{"s":"WOA at 50.0 (10mil)","t":430,"v":5.75e7},{"s":"WOA at 50.0 (10mil)","t":460,"v":6.03e7},{"s":"WOA at 50.0 (10mil)","t":490,"v":6.03e7},{"s":"WOA at 50.0 (10mil)","t":492,"v":1.10e7},{"s":"WOA at 50.0 (10mil)","t":510,"v":1.15e7},{"s":"WOA at 50.0 (10mil)","t":512,"v":6.03e7},{"s":"WOA at 50.0 (10mil)","t":550,"v":6.31e7},{"s":"WOA at 50.0 (10mil)","t":580,"v":6.31e7},{"s":"WOA at 50.0 (10mil)","t":610,"v":6.61e7},{"s":"WOA at 50.0 (10mil)","t":640,"v":6.61e7},{"s":"WOA at 50.0 (10mil)","t":670,"v":6.92e7},{"s":"WOA at 50.0 (10mil)","t":700,"v":6.92e7},{"s":"WOA at 50.0 (10mil)","t":730,"v":7.24e7},{"s":"WOA at 50.0 (10mil)","t":760,"v":7.24e7},{"s":"WOA at 50.0 (10mil)","t":790,"v":7.59e7},{"s":"WOA at 50.0 (10mil)","t":820,"v":7.59e7},{"s":"WOA at 50.0 (10mil)","t":850,"v":7.94e7},{"s":"WOA at 50.0 (10mil)","t":878,"v":7.94e7},{"s":"WOA at 50.0 (10mil)","t":880,"v":8.71e6},{"s":"WOA at 50.0 (10mil)","t":913,"v":8.71e6},{"s":"WOA at 50.0 (10mil)","t":915,"v":7.94e7},{"s":"WOA at 50.0 (10mil)","t":917,"v":8.71e6},{"s":"WOA at 50.0 (10mil)","t":931,"v":8.71e6},{"s":"WOA at 50.0 (10mil)","t":933,"v":7.94e7},{"s":"WOA at 50.0 (10mil)","t":935,"v":8.71e6},{"s":"WOA at 50.0 (10mil)","t":946,"v":8.71e6},{"s":"WOA at 50.0 (10mil)","t":948,"v":7.94e7},{"s":"WOA at 50.0 (10mil)","t":950,"v":8.71e6},{"s":"WOA at 50.0 (10mil)","t":1006,"v":8.71e6},{"s":"WOA at 50.0 (10mil)","t":1008,"v":7.94e9}
],
"notes": [{"x1": 0.5, "x2": 1090, "y": 1e8}],
"box": [{"x1": 280, "x2": 759, "y1": 2.87e5, "y2": 9.0e5, "x": 519, "ym": 5.1e5, "label": "IPC SIR Limit of 1e8 ohms of resistance"}],
"fail": [{"x": 1087, "y": 5.78e7, "label": "Levels 35 and 50 fail SIR"}]
},
"resolve": {"scale": {"color": "independent"}},
"layer": [
{"data": {"name": "upper"}, "mark": {"type": "line", "strokeWidth": 4.5},
 "encoding": {
  "x": {"field": "t", "type": "quantitative", "scale": {"domain": [0.5, 1008.5], "nice": false, "zero": false},
    "axis": {"values": [1,30,59,88,117,146,175,204,233,262,291,320,349,378,407,436,465,494,523,552,581,610,639,668,697,726,755,784,813,842,871,900,929,958,987], "tickCount": 60, "labelOverlap": false, "labelSeparation": 0, "title": "Time - Measurements taken every 10 minutes for 168 hours"}},
  "y": {"field": "v", "type": "quantitative", "scale": {"type": "log", "domain": [1e5, 1e13], "nice": false},
    "axis": {"values": [1e5,1e6,1e7,1e8,1e9,1e10,1e11,1e12,1e13], "tickCount": 20, "labelOverlap": false, "labelExpr": "'1.00E+' + (round(log(datum.value)/LN10) < 10 ? '0' : '') + round(log(datum.value)/LN10)", "title": "ohms of resistance"}},
  "color": {"field": "s", "type": "nominal", "scale": {"domain": ["WOA at 10 (6mil)","WOA at 10 (10mil)","WOA at 10  (50mil)","WOA at 20 (6mil)","WOA at 20 (10mil)","WOA at 20 (50mil)","WOA at 25 (6mil)","WOA at 25 (10mil)","WOA at 25 (50mil)"], "range": ["#5B9BD5","#ED7D31","#A5A5A5","#FFC000","#4472C4","#70AD47","#255E91","#9E480E","#636363"]},
    "legend": {"title": null, "orient": "none", "legendX": 380, "legendY": -24.4, "padding": 0}}
 }},
{"data": {"name": "lower"}, "mark": {"type": "line", "strokeWidth": 4.5},
 "encoding": {
  "x": {"field": "t", "type": "quantitative", "axis": {"labelOverlap": false, "tickCount": 60}},
  "y": {"field": "v", "type": "quantitative", "axis": {"labelOverlap": false, "tickCount": 20}},
  "color": {"field": "s", "type": "nominal", "scale": {"domain": ["WOA at 35 (6mil)","WOA at 35 (10mil)","WOA at 35 (50mil)","WOA at 50.0 (6mil)","WOA at 50.0 (10mil)"], "range": ["#997300","#264478","#43682B","#7CAFDD","#F1975A"]},
    "legend": {"title": null, "orient": "none", "legendX": 374, "legendY": 102.5, "padding": 6, "strokeColor": "#4F76A3"}}
 }},
{"data": {"name": "notes"}, "mark": {"type": "rule", "color": "#FFFF00", "strokeWidth": 3, "clip": false},
 "encoding": {"x": {"field": "x1", "type": "quantitative", "axis": {"labelOverlap": false, "tickCount": 60}}, "x2": {"field": "x2"}, "y": {"field": "y", "type": "quantitative", "axis": {"labelOverlap": false, "tickCount": 20}}}},
{"data": {"name": "box"}, "mark": {"type": "rect", "fill": "#FFFF00", "clip": false},
 "encoding": {"x": {"field": "x1", "type": "quantitative", "axis": {"labelOverlap": false, "tickCount": 60}}, "x2": {"field": "x2"}, "y": {"field": "y1", "type": "quantitative", "axis": {"labelOverlap": false, "tickCount": 20}}, "y2": {"field": "y2"}}},
{"data": {"name": "box"}, "mark": {"type": "text", "font": "Lato", "fontSize": 8, "color": "#000000", "align": "center", "baseline": "middle", "clip": false},
 "encoding": {"x": {"field": "x", "type": "quantitative", "axis": {"labelOverlap": false, "tickCount": 60}}, "y": {"field": "ym", "type": "quantitative", "axis": {"labelOverlap": false, "tickCount": 20}}, "text": {"field": "label"}}},
{"data": {"name": "fail"}, "mark": {"type": "text", "font": "Lato", "fontSize": 8, "color": "#000000", "align": "left", "baseline": "middle", "clip": false},
 "encoding": {"x": {"field": "x", "type": "quantitative", "axis": {"labelOverlap": false, "tickCount": 60}}, "y": {"field": "y", "type": "quantitative", "axis": {"labelOverlap": false, "tickCount": 20}}, "text": {"field": "label"}}}
]
}
